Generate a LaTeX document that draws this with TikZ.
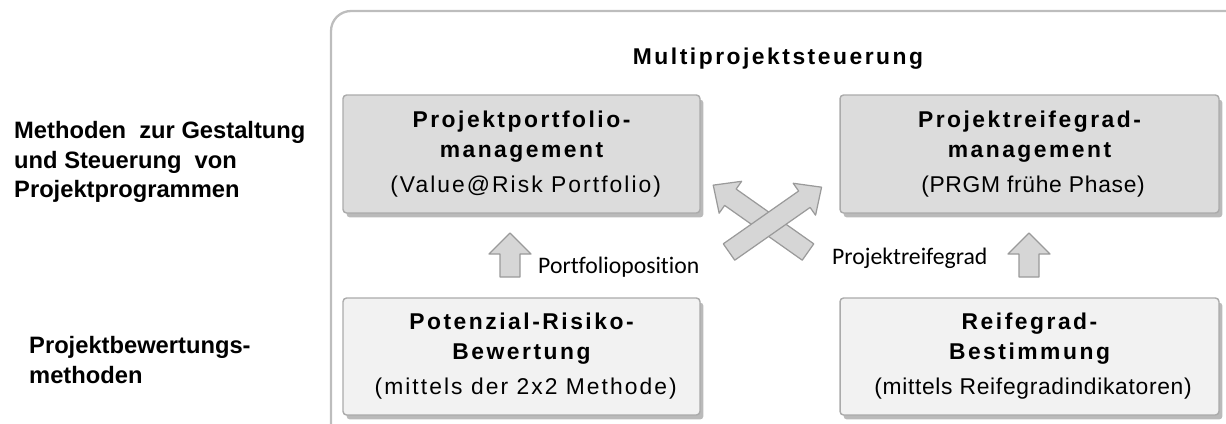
\documentclass[tikz,border=0pt]{standalone}
\usepackage{fontspec}
\setmainfont{Liberation Sans}
\newfontfamily\hdfont[LetterSpace=11]{Liberation Sans}
\newfontfamily\subwide[LetterSpace=9]{Liberation Sans}
\newfontfamily\subnarrow[LetterSpace=3]{Liberation Sans}
\newfontfamily\lblfont[Ligatures=NoCommon]{Carlito}
\usetikzlibrary{shadows}
\definecolor{framegray}{HTML}{BDBDBD}
\definecolor{boxdark}{HTML}{DCDCDC}
\definecolor{boxlight}{HTML}{F2F2F2}
\definecolor{boxline}{HTML}{ABABAB}
\definecolor{arrowfill}{HTML}{D6D6D6}
\definecolor{arrowline}{HTML}{9A9A9A}
% tail x, tail y, angle, length, half head width
\newcommand\FatArrow[5]{%
    \draw[fatarrow, shift={(#1,#2)}, rotate=#3]
        (0,-10) -- (#4-21,-10) -- (#4-21,-#5) -- (#4,0) -- (#4-21,#5) -- (#4-21,10) -- (0,10) -- cycle;
}
% two bold head lines, subtitle font, subtitle
\newcommand\PanelText[4]{\hdfont\bfseries #1\\\hdfont\bfseries #2\\[3pt]#3 #4}

\begin{document}
\begin{tikzpicture}[x=0.02cm, y=-0.02cm,
    fatarrow/.style={draw=arrowline, fill=arrowfill, line width=0.7pt, line join=round},
    panel/.style={draw=boxline, line width=0.8pt, rounded corners=2pt, align=center, inner sep=0pt,
        font=\fontsize{13}{17}\selectfont,
        drop shadow={shadow xshift=0.07cm, shadow yshift=-0.09cm, fill=black!45, opacity=0.6}},
    topbox/.style={panel, fill=boxdark, minimum height=2.36cm},
    lowbox/.style={panel, fill=boxlight, minimum height=2.34cm},
    sidelabel/.style={anchor=west, align=left, font=\fontsize{13.5}{16.8}\selectfont\bfseries},
    flowlabel/.style={font=\fontsize{13.5}{16}\selectfont\lblfont}]
    \useasboundingbox (0,0) rectangle (1226,423);
    \clip (0,0) rectangle (1226,423);
    % frame
    \draw[framegray, line width=1.3pt, rounded corners=0.4cm] (331,11) rectangle (1260,470);
    \node[font=\fontsize{13}{17}\selectfont\hdfont\bfseries] (title) at (778,59) {Multiprojektsteuerung};
    % left side
    \node[sidelabel] (steuer) at (8,162) {Methoden\ \ zur Gestaltung\\und Steuerung\ \ von\\Projektprogrammen};
    \node[sidelabel] (bewert) at (23,360) {Projektbewertungs-\\methoden};
    % boxes
    \node[topbox, minimum width=7.14cm] (ppm) at (521.5,154)
        {\PanelText{Projektportfolio-}{management}{\subwide}{(Value@Risk Portfolio)}};
    \node[topbox, minimum width=7.58cm] (prgm) at (1029.5,154)
        {\PanelText{Projektreifegrad-}{management}{\subnarrow}{(PRGM fr\"uhe Phase)}};
    \node[lowbox, minimum width=7.14cm] (prb) at (521.5,356.5)
        {\PanelText{Potenzial-Risiko-}{Bewertung}{\subwide}{(mittels der 2x2 Methode)}};
    \node[lowbox, minimum width=7.58cm] (rgb) at (1029.5,356.5)
        {\PanelText{Reifegrad-}{Bestimmung}{\subnarrow}{(mittels Reifegradindikatoren)}};
    % arrows
    \FatArrow{510}{277}{90}{44}{21}
    \FatArrow{1029}{277}{90}{44}{21}
    \FatArrow{808}{252}{144.8}{116}{19.5}
    \FatArrow{729}{252}{35}{113}{19.5}
    \node[flowlabel, anchor=west] (pos) at (532,267) {Portfolioposition};
    \node[flowlabel, anchor=west] (reife) at (826,258) {Projektreifegrad};
\end{tikzpicture}
\end{document}
